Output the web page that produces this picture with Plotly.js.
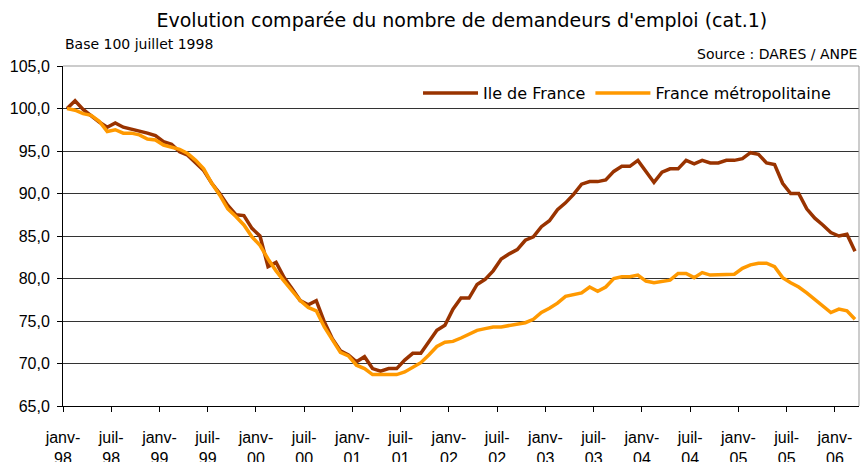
<!DOCTYPE html>
<html>
<head>
<meta charset="utf-8">
<script src="https://cdn.plot.ly/plotly-3.0.1.min.js"></script>
<style>
html,body{margin:0;padding:0;background:#fff;}
#chart{width:860px;height:462px;}
</style>
</head>
<body>
<div id="chart"></div>
<script>
// Monthly index (base 100), janv-98 onward
var months = [];
var ileDeFrance = [
100.0,100.9,99.9,99.1,98.4,97.8,98.3,97.8,97.6,97.3,97.1,96.8,
96.1,95.8,94.9,94.5,93.6,92.7,91.2,90.0,88.6,87.5,87.4,85.9,
85.0,81.4,81.9,80.1,78.8,77.4,76.9,77.4,74.9,72.9,71.5,71.0,
70.2,70.8,69.4,69.1,69.4,69.4,70.4,71.2,71.2,72.5,73.9,74.5,
76.4,77.7,77.7,79.3,79.9,80.9,82.3,82.9,83.4,84.5,84.9,86.1,
86.8,88.1,88.9,89.9,91.1,91.4,91.4,91.6,92.6,93.2,93.2,93.9,
92.6,91.3,92.5,92.9,92.9,93.9,93.5,93.9,93.6,93.6,93.9,93.9,
94.1,94.8,94.6,93.6,93.4,91.2,90.0,90.0,88.2,87.1,86.3,85.4,
85.0,85.2,83.2
];
var franceMetro = [
100.0,99.8,99.4,99.2,98.5,97.3,97.5,97.1,97.1,96.9,96.4,96.3,
95.7,95.4,95.2,94.7,93.9,92.9,91.2,89.8,88.2,87.3,86.3,84.9,
83.9,82.3,80.9,79.7,78.6,77.4,76.6,76.2,74.3,72.7,71.3,70.9,
69.8,69.4,68.7,68.7,68.7,68.7,69.0,69.5,70.1,71.0,72.0,72.5,
72.6,73.0,73.5,73.9,74.1,74.3,74.3,74.5,74.7,74.8,75.2,76.0,
76.5,77.1,77.9,78.1,78.3,79.0,78.5,79.0,80.0,80.2,80.2,80.4,
79.7,79.5,79.6,79.8,80.6,80.6,80.1,80.7,80.4,80.4,80.4,80.5,
81.2,81.6,81.8,81.8,81.4,80.1,79.5,79.0,78.3,77.5,76.7,76.0,
76.4,76.2,75.2
];
for (var i = 0; i < ileDeFrance.length; i++) months.push(i);

var tickYears = ["98","98","99","99","00","00","01","01","02","02","03","03","04","04","05","05","06"];
var tickMonths = ["janv-","juil-"];
var tickVals = [], tickText = [];
for (var k = 0; k < tickYears.length; k++) {
  tickVals.push(-0.5 + 6 * k);
  tickText.push(tickMonths[k % 2] + "<br>" + tickYears[k]);
}
var yTicks = [65,70,75,80,85,90,95,100,105];

var traces = [
  {x: months, y: ileDeFrance, name: "Ile de France", type: "scatter", mode: "lines",
   line: {color: "#993300", width: 3.5}},
  {x: months, y: franceMetro, name: "France métropolitaine", type: "scatter", mode: "lines",
   line: {color: "#FF9900", width: 3.5}}
];

var layout = {
  width: 860, height: 462,
  margin: {l: 63, r: 1, t: 66, b: 56},
  paper_bgcolor: "#fff", plot_bgcolor: "#fff",
  separators: ", ",
  font: {family: "Liberation Sans, Arial, sans-serif", size: 16, color: "#000"},
  title: {text: "Evolution comparée du nombre de demandeurs d'emploi (cat.1)",
          font: {family: "DejaVu Sans, Verdana, sans-serif", size: 19, color: "#000"},
          x: 0.537, xanchor: "center", y: 0.957, yanchor: "middle"},
  xaxis: {range: [-0.5, 98.5], tickvals: tickVals, ticktext: tickText, tickangle: 0,
          showgrid: false, zeroline: false, showline: true, linecolor: "#000", linewidth: 1,
          ticks: "outside", ticklen: 5, tickcolor: "#000", ticklabelstandoff: 12,
          tickfont: {family: "Liberation Sans, Arial, sans-serif", size: 16}},
  yaxis: {range: [65, 105], tickvals: yTicks, tickformat: ".1f",
          showgrid: true, gridcolor: "#333", gridwidth: 1, zeroline: false,
          showline: true, linecolor: "#000", linewidth: 1,
          ticks: "outside", ticklen: 5, tickcolor: "#000", ticklabelstandoff: 4,
          tickfont: {family: "Liberation Sans, Arial, sans-serif", size: 16}},
  showlegend: true,
  legend: {orientation: "h", x: 0.446, y: 0.97, xanchor: "left", yanchor: "top",
           itemwidth: 55, bgcolor: "rgba(255,255,255,0)",
           font: {family: "DejaVu Sans, Verdana, sans-serif", size: 16}},
  shapes: [
    {type: "line", xref: "paper", yref: "paper", x0: 0, x1: 1, y0: 1, y1: 1, line: {color: "#999", width: 1}},
    {type: "line", xref: "paper", yref: "paper", x0: 1, x1: 1, y0: 0, y1: 1, line: {color: "#999", width: 1}}
  ],
  annotations: [
    {text: "Base 100 juillet 1998", xref: "paper", yref: "paper", x: 0, y: 1, xanchor: "left", yanchor: "bottom",
     yshift: 12, showarrow: false, font: {family: "DejaVu Sans, Verdana, sans-serif", size: 14}},
    {text: "Source : DARES / ANPE", xref: "paper", yref: "paper", x: 1, y: 1, xanchor: "right", yanchor: "bottom",
     yshift: 2, showarrow: false, font: {family: "DejaVu Sans, Verdana, sans-serif", size: 14}}
  ]
};

Plotly.newPlot("chart", traces, layout, {displayModeBar: false, staticPlot: true});
</script>
</body>
</html>
